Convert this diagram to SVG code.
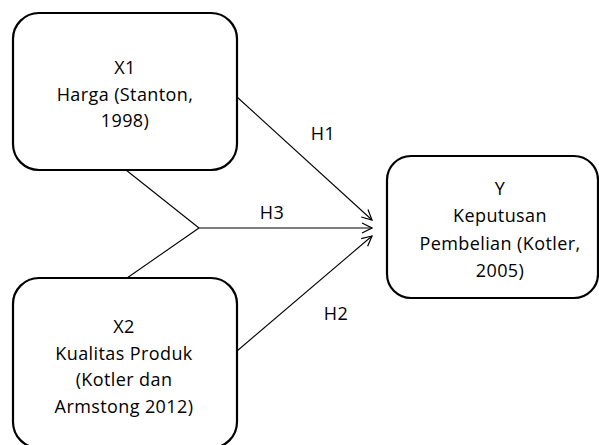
<svg xmlns="http://www.w3.org/2000/svg" width="599" height="445" viewBox="0 0 599 445">
<defs>
<marker id="arr" viewBox="0 0 12 12" refX="11" refY="6" markerWidth="12" markerHeight="12" markerUnits="userSpaceOnUse" orient="auto">
<path d="M1,1 L11,6 L1,11" fill="none" stroke="#000" stroke-width="1.2"/>
</marker>
<style>
.box{fill:#fff;stroke:#000;stroke-width:2.2}
.t{font-family:"Open Sans","Liberation Sans",sans-serif;font-size:18px;letter-spacing:0.4px;fill:#000;text-anchor:middle}
.c{fill:none;stroke:#000;stroke-width:1.1}
</style>
</defs>
<rect width="599" height="445" fill="#fff"/>
<g id="connectors">
<line class="c" x1="237" y1="97" x2="372" y2="220" marker-end="url(#arr)"/>
<line class="c" x1="199" y1="228" x2="372" y2="228" marker-end="url(#arr)"/>
<line class="c" x1="237" y1="351" x2="372" y2="236" marker-end="url(#arr)"/>
<line class="c" x1="126" y1="170" x2="199" y2="228"/>
<line class="c" x1="127" y1="278" x2="199" y2="228"/>
<text class="t" x="323" y="140">H1</text>
<text class="t" x="272" y="219">H3</text>
<text class="t" x="336" y="320">H2</text>
</g>
<g id="x1">
<rect class="box" x="13" y="13" width="224" height="157" rx="26" ry="26"/>
<text class="t" x="125" y="74">X1</text>
<text class="t" x="125" y="100.5">Harga (Stanton,</text>
<text class="t" x="125" y="127">1998)</text>
</g>
<g id="x2">
<rect class="box" x="13" y="278" width="224" height="170" rx="26" ry="26"/>
<text class="t" x="124" y="333">X2</text>
<text class="t" x="124" y="359.5">Kualitas Produk</text>
<text class="t" x="124" y="386">(Kotler dan</text>
<text class="t" x="124" y="413">Armstong 2012)</text>
</g>
<g id="y">
<rect class="box" x="387" y="156" width="211" height="142" rx="24" ry="24"/>
<text class="t" x="500" y="195">Y</text>
<text class="t" x="500" y="222">Keputusan</text>
<text class="t" x="500" y="249.5">Pembelian (Kotler,</text>
<text class="t" x="500" y="276.5">2005)</text>
</g>
</svg>
